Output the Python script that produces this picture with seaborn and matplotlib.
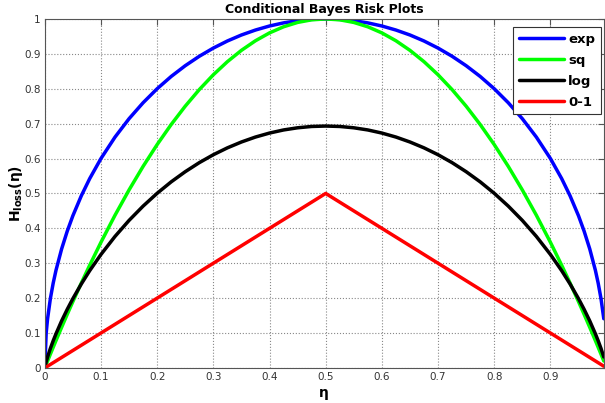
import pandas as pd
import numpy as np
import matplotlib.pyplot as plt
import seaborn as sns

# values at these eta positions
eta = [0, 0.0025, 0.005, 0.01, 0.015, 0.02, 0.03, 0.04, 0.05, 0.065, 0.08, 0.1, 0.125, 0.15, 0.175,
       0.2, 0.225, 0.25, 0.275, 0.3, 0.325, 0.35, 0.375, 0.4, 0.425, 0.45, 0.475, 0.5,
       0.525, 0.55, 0.575, 0.6, 0.625, 0.65, 0.675, 0.7, 0.725, 0.75, 0.775, 0.8, 0.825, 0.85, 0.875,
       0.9, 0.92, 0.935, 0.95, 0.96, 0.97, 0.98, 0.985, 0.99, 0.995]
exp_risk = [0, 0.0999, 0.141, 0.199, 0.2431, 0.28, 0.341, 0.3919, 0.436, 0.4931, 0.5426, 0.6, 0.6614, 0.7141, 0.7599,
            0.8, 0.8352, 0.866, 0.893, 0.9165, 0.9368, 0.954, 0.9682, 0.9798, 0.9887, 0.995, 0.9987, 1.0,
            0.9987, 0.995, 0.9887, 0.9798, 0.9682, 0.954, 0.9368, 0.9165, 0.893, 0.866, 0.8352, 0.8, 0.7599, 0.7141, 0.6614,
            0.6, 0.5426, 0.4931, 0.436, 0.3919, 0.341, 0.28, 0.2431, 0.199, 0.141]
sq_risk = [0, 0.009975, 0.0199, 0.0396, 0.0591, 0.0784, 0.1164, 0.1536, 0.19, 0.2431, 0.2944, 0.36, 0.4375, 0.51, 0.5775,
           0.64, 0.6975, 0.75, 0.7975, 0.84, 0.8775, 0.91, 0.9375, 0.96, 0.9775, 0.99, 0.9975, 1.0,
           0.9975, 0.99, 0.9775, 0.96, 0.9375, 0.91, 0.8775, 0.84, 0.7975, 0.75, 0.6975, 0.64, 0.5775, 0.51, 0.4375,
           0.36, 0.2944, 0.2431, 0.19, 0.1536, 0.1164, 0.0784, 0.0591, 0.0396, 0.0199]
log_risk = [0, 0.0175, 0.0315, 0.056, 0.0779, 0.098, 0.1348, 0.1679, 0.1985, 0.2405, 0.2788, 0.3251, 0.3768, 0.4227, 0.4637,
            0.5004, 0.5332, 0.5623, 0.5882, 0.6109, 0.6306, 0.6474, 0.6616, 0.673, 0.6819, 0.6881, 0.6919, 0.6931,
            0.6919, 0.6881, 0.6819, 0.673, 0.6616, 0.6474, 0.6306, 0.6109, 0.5882, 0.5623, 0.5332, 0.5004, 0.4637, 0.4227, 0.3768,
            0.3251, 0.2788, 0.2405, 0.1985, 0.1679, 0.1348, 0.098, 0.0779, 0.056, 0.0315]
zero_one = [0, 0.0025, 0.005, 0.01, 0.015, 0.02, 0.03, 0.04, 0.05, 0.065, 0.08, 0.1, 0.125, 0.15, 0.175,
            0.2, 0.225, 0.25, 0.275, 0.3, 0.325, 0.35, 0.375, 0.4, 0.425, 0.45, 0.475, 0.5,
            0.475, 0.45, 0.425, 0.4, 0.375, 0.35, 0.325, 0.3, 0.275, 0.25, 0.225, 0.2, 0.175, 0.15, 0.125,
            0.1, 0.08, 0.065, 0.05, 0.04, 0.03, 0.02, 0.015, 0.01, 0.005]

names = ['exp', 'sq', 'log', '0-1']
colors = ['#0000ff', '#00ff00', '#000000', '#ff0000']

df = pd.concat([
    pd.DataFrame({'eta': eta, 'risk': vals, 'loss': name})
    for name, vals in zip(names, [exp_risk, sq_risk, log_risk, zero_one])
])

sns.set_style('white')
plt.rcParams['font.family'] = ['DejaVu Sans']
plt.rcParams['text.color'] = 'black'
plt.rcParams['axes.labelcolor'] = 'black'

fig = plt.figure(figsize=(6.05, 4.03), dpi=100)
ax = fig.add_axes([0.074, 0.087, 0.924, 0.866])

sns.lineplot(data=df, x='eta', y='risk', hue='loss', hue_order=names,
             palette=dict(zip(names, colors)), linewidth=2.5, ax=ax)

ax.set_xlim(0, 0.995)
ax.set_ylim(0, 1)
ax.set_xticks(np.arange(0, 1.0, 0.1))
ax.set_xticklabels(['0', '0.1', '0.2', '0.3', '0.4', '0.5', '0.6', '0.7', '0.8', '0.9'])
ax.set_yticks(np.arange(0, 1.01, 0.1))
ax.set_yticklabels(['0', '0.1', '0.2', '0.3', '0.4', '0.5', '0.6', '0.7', '0.8', '0.9', '1'])
ax.tick_params(direction='in', length=4, width=0.8, color='#555555', labelsize=7.5,
               labelcolor='#333333', top=True, right=True, pad=3)
ax.grid(True, linestyle=':', color='#888888', linewidth=0.8)
for s in ax.spines.values():
    s.set_color('#555555')
    s.set_linewidth(0.8)

ax.set_title('Conditional Bayes Risk Plots', fontsize=9, fontweight='bold', pad=4, color='black')
ax.set_xlabel('η', fontsize=10, fontweight='bold', labelpad=3)
ax.set_ylabel(r'$\mathbf{H}_{\mathbf{loss}}\mathbf{(\eta)}$', fontsize=10)
ax.yaxis.set_label_coords(-0.036, 0.5)

leg = ax.legend(loc='upper right', fontsize=9.5, frameon=True, fancybox=False,
                handlelength=3.4, borderpad=0.45, labelspacing=0.6, handletextpad=0.35,
                borderaxespad=0.2, bbox_to_anchor=(1.0, 0.985))
leg.get_frame().set_edgecolor('#333333')
leg.get_frame().set_linewidth(0.8)
leg.get_frame().set_alpha(1)
for t in leg.get_texts():
    t.set_fontweight('bold')
    t.set_color('black')
for h in leg.get_lines():
    h.set_linewidth(2.5)

fig.savefig('out.png', dpi=100)
